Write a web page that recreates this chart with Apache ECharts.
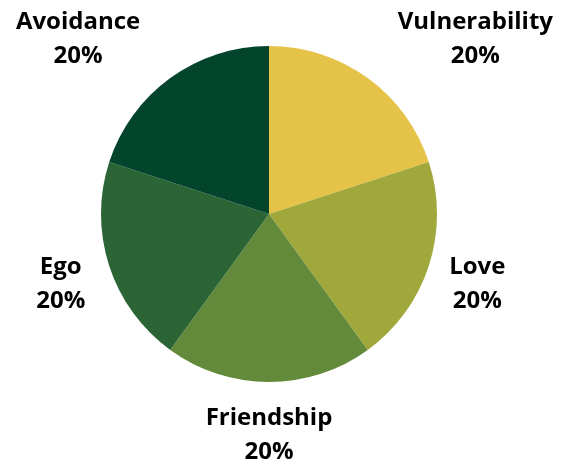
<!DOCTYPE html>
<html lang="en" style="height: 100%">
<head>
    <meta charset="utf-8">
    <title>Pie</title>
</head>
<body style="height: 100%; margin: 0; background: #fff">
    <div id="container" style="width: 564px; height: 461px"></div>

    <script src="https://cdn.jsdelivr.net/npm/echarts@6/dist/echarts.min.js"></script>
    <script>
// data
const categories = ['Vulnerability', 'Love', 'Friendship', 'Ego', 'Avoidance'];
const values = [20, 20, 20, 20, 20];
const colors = ['#E5C348', '#A1A83B', '#628A3A', '#2B6535', '#03442C'];

// labels of these slices are centred on their anchor point,
// the others keep their inner edge at the anchor
const centeredLabels = ['Love', 'Friendship', 'Ego'];

const chart = echarts.init(document.getElementById('container'));

const option = {
    animation: false,
    series: [
        {
            type: 'pie',
            // tall view box so labels are not pushed back inside the window
            left: 0,
            top: 0,
            width: 564,
            height: 800,
            center: [269, 214],
            radius: 168,
            startAngle: 90,
            clockwise: true,
            data: categories.map((name, i) => ({
                name: name,
                value: values[i],
                itemStyle: { color: colors[i] }
            })),
            label: {
                show: true,
                position: 'outside',
                formatter: p => p.name + '\n' + Math.round(p.percent) + '%',
                fontFamily: 'Open Sans',
                fontWeight: 'bold',
                fontSize: 24,
                lineHeight: 34,
                color: '#000',
                distanceToLabelLine: 0
            },
            labelLine: {
                show: false,
                length: 51,
                length2: 0
            },
            labelLayout: function (p) {
                const name = categories[p.dataIndex];
                const r = p.labelRect;
                const anchor = p.align === 'right' ? r.x + r.width : r.x;
                if (centeredLabels.indexOf(name) >= 0) {
                    return { align: 'center', x: anchor, dy: 2 };
                }
                return { align: 'center', x: r.x + r.width / 2, dy: 2 };
            }
        }
    ]
};

chart.setOption(option);
    </script>
</body>
</html>
